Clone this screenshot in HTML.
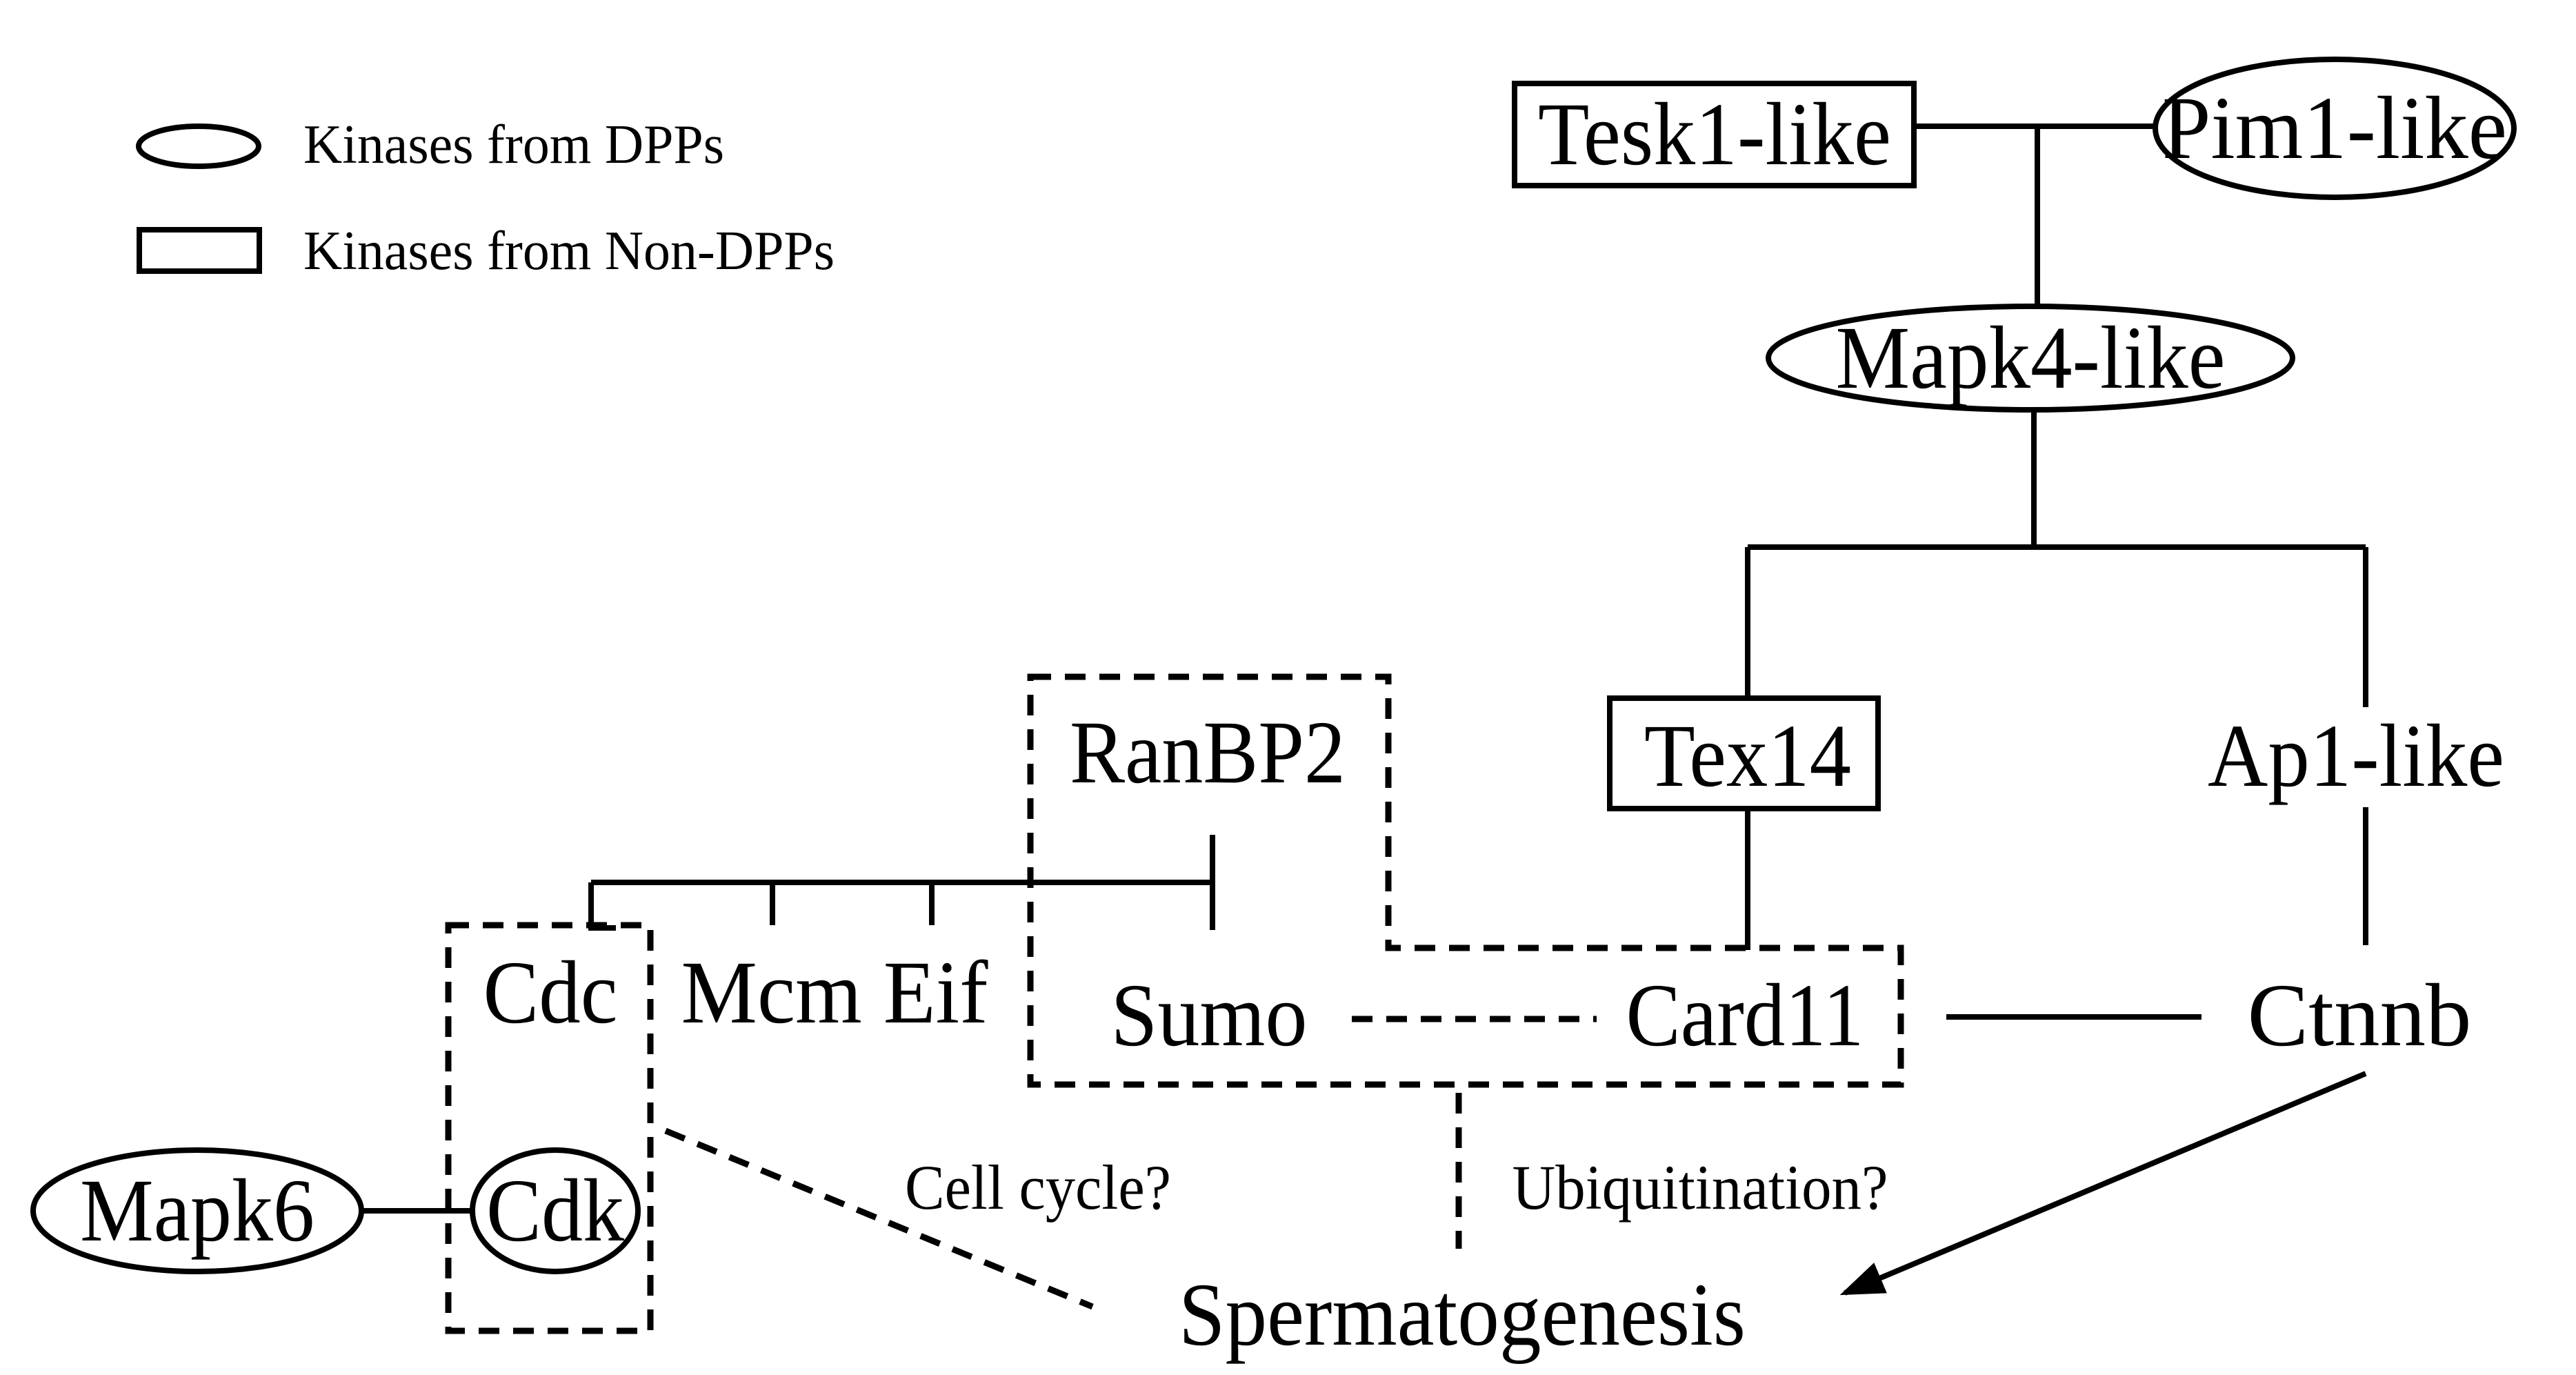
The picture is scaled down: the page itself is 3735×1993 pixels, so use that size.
<!DOCTYPE html>
<html><head><meta charset="utf-8"><style>html,body{margin:0;padding:0;background:#fff}svg{display:block}</style></head>
<body>
<svg width="3735" height="1993" viewBox="0 0 3735 1993" xmlns="http://www.w3.org/2000/svg" font-family="Liberation Serif, serif" fill="#000">
<defs><marker id="ah" markerWidth="8" markerHeight="6" refX="7" refY="3" orient="auto" markerUnits="strokeWidth"><path d="M0,0 L8,3 L0,6 z"/></marker></defs>
<g fill="none" stroke="#000" stroke-width="8">
<ellipse cx="288" cy="212" rx="87" ry="29"/>
<rect x="202" y="333" width="174" height="60"/>
<rect x="2196" y="121" width="579" height="148"/>
<ellipse cx="3385" cy="186" rx="260" ry="100"/>
<ellipse cx="2944" cy="519" rx="380" ry="75"/>
<rect x="2334" y="1012" width="389" height="160"/>
<ellipse cx="286" cy="1755" rx="238" ry="88"/>
<ellipse cx="805" cy="1755" rx="120" ry="88"/>
<path d="M2775 183H3125M2954 183V444M2949 594V793M2534 793H3430M2534 793V1012M3430 793V1025M3430 1170V1370M2534 1172V1377M857 1279H1758M1758 1210V1348M1120 1279V1341M1351 1279V1341M857 1279V1345H893M524 1755H684M2822 1474H3192"/>
<line x1="3430" y1="1556" x2="2675" y2="1874" marker-end="url(#ah)"/>
</g>
<g fill="none" stroke="#000" stroke-width="9" stroke-dasharray="30,20">
<path d="M1494 981H2013V1374H2756V1572H1494Z"/>
<rect x="650" y="1341" width="293" height="588"/>
<path d="M1960 1477H2315M965 1639L1584 1894M2115 1584V1810"/>
</g>
<g font-size="80" text-anchor="start">
<text x="440" y="236" textLength="610" lengthAdjust="spacingAndGlyphs">Kinases from DPPs</text>
<text x="440" y="390" textLength="770" lengthAdjust="spacingAndGlyphs">Kinases from Non-DPPs</text>
</g>
<g font-size="130" text-anchor="middle">
<text x="2486" y="238" textLength="512" lengthAdjust="spacingAndGlyphs">Tesk1-like</text>
<text x="3385" y="229" textLength="500" lengthAdjust="spacingAndGlyphs">Pim1-like</text>
<text x="2944" y="562" textLength="565" lengthAdjust="spacingAndGlyphs">Mapk4-like</text>
<text x="2534" y="1139" textLength="300" lengthAdjust="spacingAndGlyphs">Tex14</text>
<text x="3416" y="1139" textLength="430" lengthAdjust="spacingAndGlyphs">Ap1-like</text>
<text x="1751" y="1134" textLength="400" lengthAdjust="spacingAndGlyphs">RanBP2</text>
<text x="798" y="1482" textLength="195" lengthAdjust="spacingAndGlyphs">Cdc</text>
<text x="1210" y="1482" textLength="445" lengthAdjust="spacingAndGlyphs">Mcm Eif</text>
<text x="1753" y="1515" textLength="285" lengthAdjust="spacingAndGlyphs">Sumo</text>
<text x="2530" y="1515" textLength="345" lengthAdjust="spacingAndGlyphs">Card11</text>
<text x="3421" y="1515" textLength="325" lengthAdjust="spacingAndGlyphs">Ctnnb</text>
<text x="286" y="1798" textLength="340" lengthAdjust="spacingAndGlyphs">Mapk6</text>
<text x="805" y="1798" textLength="200" lengthAdjust="spacingAndGlyphs">Cdk</text>
<text x="2120" y="1949" textLength="822" lengthAdjust="spacingAndGlyphs">Spermatogenesis</text>
</g>
<g font-size="92" text-anchor="middle">
<text x="1505" y="1752" textLength="386" lengthAdjust="spacingAndGlyphs">Cell cycle?</text>
<text x="2465" y="1752" textLength="545" lengthAdjust="spacingAndGlyphs">Ubiquitination?</text>
</g>
</svg>
</body></html>
